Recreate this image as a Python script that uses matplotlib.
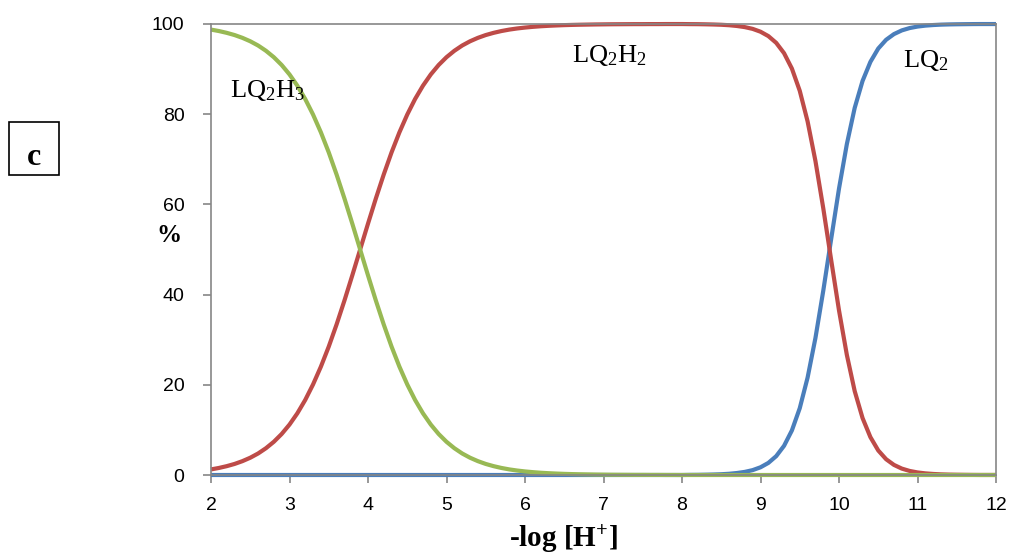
import numpy as np
import matplotlib.pyplot as plt
from matplotlib.patches import Rectangle

# species distribution vs -log[H+], 0.1 steps
ph = [2.0, 2.1, 2.2, 2.3, 2.4, 2.5, 2.6, 2.7, 2.8, 2.9,
      3.0, 3.1, 3.2, 3.3, 3.4, 3.5, 3.6, 3.7, 3.8, 3.9,
      4.0, 4.1, 4.2, 4.3, 4.4, 4.5, 4.6, 4.7, 4.8, 4.9,
      5.0, 5.1, 5.2, 5.3, 5.4, 5.5, 5.6, 5.7, 5.8, 5.9,
      6.0, 6.1, 6.2, 6.3, 6.4, 6.5, 6.6, 6.7, 6.8, 6.9,
      7.0, 7.1, 7.2, 7.3, 7.4, 7.5, 7.6, 7.7, 7.8, 7.9,
      8.0, 8.1, 8.2, 8.3, 8.4, 8.5, 8.6, 8.7, 8.8, 8.9,
      9.0, 9.1, 9.2, 9.3, 9.4, 9.5, 9.6, 9.7, 9.8, 9.9,
      10.0, 10.1, 10.2, 10.3, 10.4, 10.5, 10.6, 10.7, 10.8, 10.9,
      11.0, 11.1, 11.2, 11.3, 11.4, 11.5, 11.6, 11.7, 11.8, 11.9, 12.0]

lq2h3 = [98.76, 98.44, 98.04, 97.55, 96.93, 96.17, 95.23, 94.06, 92.64, 90.91,
         88.82, 86.32, 83.37, 79.92, 75.97, 71.53, 66.61, 61.31, 55.73, 50.00,
         44.27, 38.69, 33.39, 28.47, 24.03, 20.08, 16.63, 13.68, 11.18, 9.09,
         7.36, 5.94, 4.77, 3.83, 3.07, 2.45, 1.96, 1.56, 1.24, 0.99,
         0.79, 0.63, 0.50, 0.40, 0.32, 0.25, 0.20, 0.16, 0.13, 0.10,
         0.08, 0.06, 0.05, 0.04, 0.03, 0.03, 0.02, 0.02, 0.01, 0.01,
         0.0, 0.0, 0.0, 0.0, 0.0, 0.0, 0.0, 0.0, 0.0, 0.0,
         0.0, 0.0, 0.0, 0.0, 0.0, 0.0, 0.0, 0.0, 0.0, 0.0,
         0.0, 0.0, 0.0, 0.0, 0.0, 0.0, 0.0, 0.0, 0.0, 0.0,
         0.0, 0.0, 0.0, 0.0, 0.0, 0.0, 0.0, 0.0, 0.0, 0.0, 0.0]

lq2h2 = [1.24, 1.56, 1.96, 2.45, 3.07, 3.83, 4.77, 5.94, 7.36, 9.09,
         11.18, 13.68, 16.63, 20.08, 24.03, 28.47, 33.39, 38.69, 44.27, 50.00,
         55.73, 61.31, 66.61, 71.53, 75.97, 79.92, 83.37, 86.32, 88.82, 90.91,
         92.64, 94.06, 95.23, 96.17, 96.93, 97.55, 98.04, 98.44, 98.76, 99.01,
         99.21, 99.37, 99.50, 99.60, 99.68, 99.75, 99.80, 99.84, 99.87, 99.90,
         99.92, 99.94, 99.95, 99.96, 99.97, 99.97, 99.98, 99.98, 99.99, 99.99,
         99.99, 99.97, 99.96, 99.93, 99.89, 99.83, 99.73, 99.56, 99.31, 98.92,
         98.29, 97.32, 95.82, 93.53, 90.12, 85.19, 78.40, 69.61, 59.10, 47.70,
         36.50, 26.63, 18.60, 12.63, 8.40, 5.44, 3.50, 2.24, 1.42, 0.90,
         0.57, 0.36, 0.23, 0.14, 0.09, 0.06, 0.04, 0.02, 0.01, 0.01, 0.01]

lq2 = [0.0, 0.0, 0.0, 0.0, 0.0, 0.0, 0.0, 0.0, 0.0, 0.0,
       0.0, 0.0, 0.0, 0.0, 0.0, 0.0, 0.0, 0.0, 0.0, 0.0,
       0.0, 0.0, 0.0, 0.0, 0.0, 0.0, 0.0, 0.0, 0.0, 0.0,
       0.0, 0.0, 0.0, 0.0, 0.0, 0.0, 0.0, 0.0, 0.0, 0.0,
       0.0, 0.0, 0.0, 0.0, 0.0, 0.0, 0.0, 0.0, 0.0, 0.0,
       0.0, 0.0, 0.0, 0.0, 0.0, 0.0, 0.0, 0.0, 0.0, 0.0,
       0.0, 0.03, 0.04, 0.07, 0.11, 0.17, 0.27, 0.44, 0.69, 1.08,
       1.71, 2.68, 4.18, 6.47, 9.88, 14.81, 21.60, 30.39, 40.90, 52.30,
       63.50, 73.37, 81.40, 87.37, 91.60, 94.56, 96.50, 97.76, 98.58, 99.10,
       99.43, 99.64, 99.77, 99.86, 99.91, 99.94, 99.96, 99.98, 99.99, 99.99, 99.99]

plt.rcParams['mathtext.fontset'] = 'custom'
plt.rcParams['mathtext.rm'] = 'Liberation Serif'
plt.rcParams['mathtext.it'] = 'Liberation Serif:italic'
plt.rcParams['mathtext.bf'] = 'Liberation Serif:bold'

fig = plt.figure(figsize=(10.14, 5.54), dpi=100)
ax = fig.add_axes([211/1014, 1 - 475/554, (996 - 211)/1014, (475 - 24)/554])

ax.plot(ph, lq2, color='#4A7EBB', lw=3.0, clip_on=False, solid_capstyle='butt')
ax.plot(ph, lq2h2, color='#BE4B48', lw=3.0, clip_on=False, solid_capstyle='butt')
ax.plot(ph, lq2h3, color='#98B954', lw=3.0, clip_on=False, solid_capstyle='butt')

ax.set_xlim(2, 12)
ax.set_ylim(0, 100)
ax.set_xticks(range(2, 13))
ax.set_yticks(range(0, 101, 20))

gray = '#868686'
for s in ax.spines.values():
    s.set_color(gray)
    s.set_linewidth(1.2)
ax.tick_params(direction='out', length=6, width=1.2, color=gray,
               labelsize=14, labelcolor='black')
ax.tick_params(axis='x', pad=10)
ax.tick_params(axis='y', pad=13)
for lab in ax.get_xticklabels() + ax.get_yticklabels():
    lab.set_family('Liberation Sans')

ax.set_xlabel('-log [H$^{\\mathbf{+}}$]', fontsize=21, fontweight='bold',
              family='Liberation Serif', va='center')
ax.xaxis.set_label_coords((563 - 211)/785, (475 - 539)/451)

fig.text(169/1014, 1 - 235/554, '%', fontsize=18, fontweight='bold',
         family='Liberation Serif', ha='center', va='center')

# panel tag
fig.patches.append(Rectangle((9/1014, 1 - 175/554), 50/1014, 53/554,
                             transform=fig.transFigure, fill=False,
                             edgecolor='black', lw=1.2))
fig.text(34/1014, 1 - 165/554, 'c', fontsize=23, fontweight='bold',
         family='Liberation Serif', ha='center', va='baseline')

lab_kw = dict(fontsize=19, family='Liberation Serif', va='baseline', ha='left')
ax.text(2.24, 83.8, 'LQ$_2$H$_3$', **lab_kw)
ax.text(6.60, 91.6, 'LQ$_2$H$_2$', **lab_kw)
ax.text(10.82, 90.5, 'LQ$_2$', **lab_kw)

fig.savefig('out.png', dpi=100)
